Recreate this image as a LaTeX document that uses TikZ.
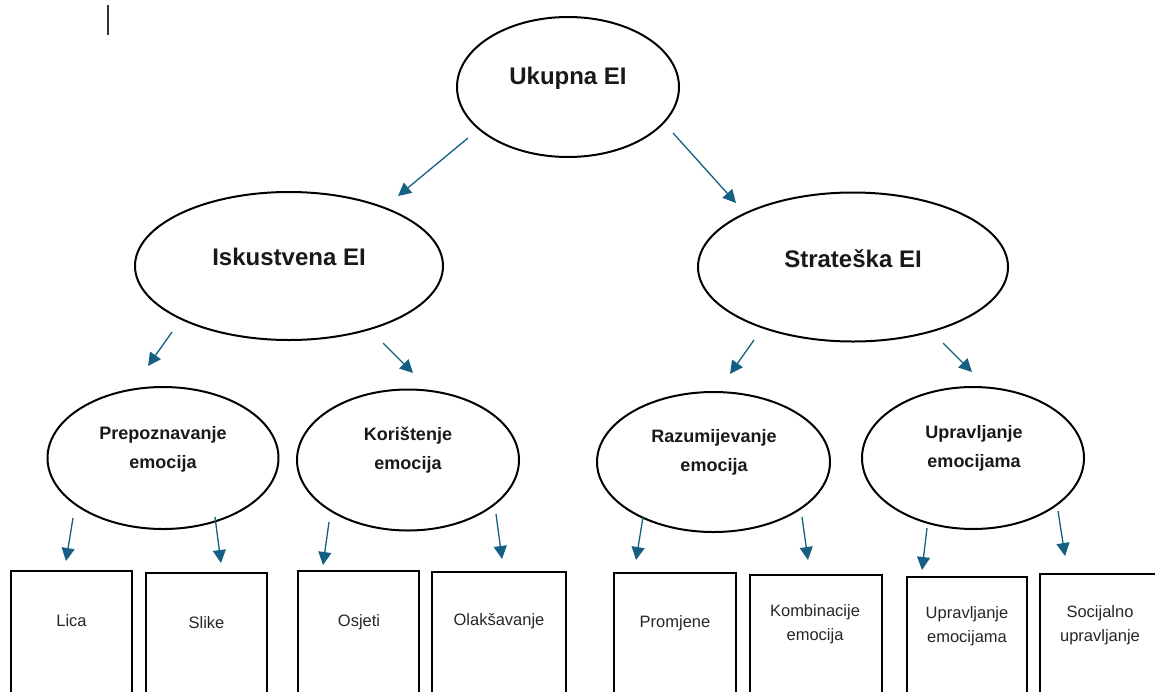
\documentclass[tikz,border=0pt]{standalone}
\usepackage{fontspec}
\setmainfont{Liberation Sans}
\usetikzlibrary{arrows.meta,shapes.geometric}
\definecolor{arrowblue}{RGB}{21,96,130}
\begin{document}
\begin{tikzpicture}[x=1pt,y=-1pt,
  ell/.style={draw=black, line width=2pt, ellipse, inner sep=0pt},
  rect/.style={draw=black, line width=2.4pt, rectangle, anchor=north, inner sep=0pt, minimum height=140pt},
  big/.style={font=\fontsize{24}{28}\selectfont\bfseries, text=black!90},
  med/.style={font=\fontsize{18}{29}\selectfont\bfseries, align=center, text=black!90},
  small/.style={font=\fontsize{16.5}{24}\selectfont, align=center, text=black!85},
  arr/.style={draw=arrowblue, line width=1.3pt, -{Triangle[length=13pt,width=13pt]}}]
\useasboundingbox (0,0) rectangle (1155,691);
\clip (0,0) rectangle (1155,691);

% cursor mark
\coordinate (c1) at (108,5);
\coordinate (c2) at (108,35);
\draw[line width=1.3pt, black!80] (c1) -- (c2);

% ellipses
\node[ell, minimum width=222pt, minimum height=140pt] (uk) at (568,87) {};
\node[big] (ukt) at (568,78) {Ukupna EI};
\node[ell, minimum width=308pt, minimum height=148pt] (isk) at (289,266) {};
\node[big] (iskt) at (289,257) {Iskustvena EI};
\node[ell, minimum width=310pt, minimum height=149pt] (str) at (853,267) {};
\node[big] (strt) at (853,259) {Strateška EI};

\node[ell, minimum width=231pt, minimum height=142pt] (prep) at (163,458) {};
\node[med] (prept) at (163,449) {Prepoznavanje\\emocija};
\node[ell, minimum width=222pt, minimum height=141pt] (kor) at (408,460) {};
\node[med] (kort) at (408,450) {Korištenje\\emocija};
\node[ell, minimum width=233pt, minimum height=140pt] (raz) at (713.5,462) {};
\node[med] (razt) at (714,452.5) {Razumijevanje\\emocija};
\node[ell, minimum width=222pt, minimum height=142pt] (upr) at (973,458) {};
\node[med] (uprt) at (974,448.5) {Upravljanje\\emocijama};

% boxes
\node[rect, minimum width=121pt] (lica) at (71.5,570) {};
\node[small] (licat) at (71.5,621) {Lica};
\node[rect, minimum width=121pt] (slike) at (206.5,572) {};
\node[small] (sliket) at (206.5,623) {Slike};
\node[rect, minimum width=121pt] (osj) at (358.5,570) {};
\node[small] (osjt) at (359,622) {Osjeti};
\node[rect, minimum width=134pt] (olak) at (499,571) {};
\node[small] (olakt) at (499,621) {Olakšavanje};
\node[rect, minimum width=122pt] (prom) at (675,572) {};
\node[small] (promt) at (675,623) {Promjene};
\node[rect, minimum width=132pt] (komb) at (816,574) {};
\node[small] (kombt) at (815,624) {Kombinacije\\emocija};
\node[rect, minimum width=120pt] (uprb) at (967,576) {};
\node[small] (uprbt) at (967,626) {Upravljanje\\emocijama};
\node[rect, minimum width=120pt] (soc) at (1100,573) {};
\node[small] (soct) at (1100,625) {Socijalno\\upravljanje};

% arrow coordinates
\coordinate (a1s) at (468,138); \coordinate (a1e) at (398,196);
\coordinate (a2s) at (673,133); \coordinate (a2e) at (736,203);
\coordinate (a3s) at (172,332); \coordinate (a3e) at (148,366);
\coordinate (a4s) at (383,343); \coordinate (a4e) at (413,373);
\coordinate (a5s) at (754,340); \coordinate (a5e) at (730,374);
\coordinate (a6s) at (943,343); \coordinate (a6e) at (972,372);
\coordinate (a7s) at (73,518);  \coordinate (a7e) at (66,561);
\coordinate (a8s) at (215,517); \coordinate (a8e) at (221,563);
\coordinate (a9s) at (329,522); \coordinate (a9e) at (323,565);
\coordinate (a10s) at (496,514); \coordinate (a10e) at (502,559);
\coordinate (a11s) at (643,517); \coordinate (a11e) at (636,560);
\coordinate (a12s) at (802,517); \coordinate (a12e) at (808,560);
\coordinate (a13s) at (927,528); \coordinate (a13e) at (922,570);
\coordinate (a14s) at (1058,511); \coordinate (a14e) at (1065,556);

\foreach \i in {1,...,14} {\draw[arr] (a\i s) -- (a\i e);}
\end{tikzpicture}
\end{document}
